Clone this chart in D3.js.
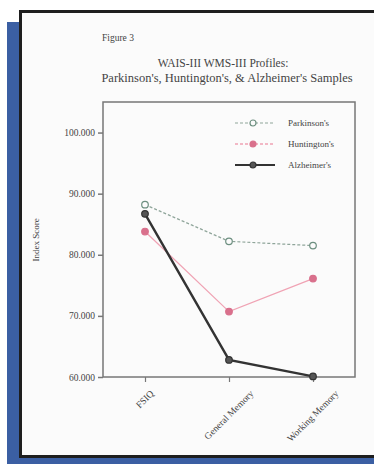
<!DOCTYPE html>
<html>
<head>
<meta charset="utf-8">
<script src="https://cdn.jsdelivr.net/npm/d3@7"></script>
<style>
  html, body { margin: 0; background: #fff; overflow: hidden; }
  svg { display: block; }
  text { font-family: "Liberation Serif", "DejaVu Serif", serif; fill: #444; }
</style>
</head>
<body>
<div id="graph"></div>
<script>
const categories = ["FSIQ", "General Memory", "Working Memory"];
const parkinsons = [88.2, 82.2, 81.5];
const huntingtons = [83.8, 70.7, 76.1];
const alzheimers = [86.7, 62.8, 60.1];
const yTicks = [60, 70, 80, 90, 100];
const seriesNames = ["Parkinson's", "Huntington's", "Alzheimer's"];

const width = 374, height = 464;
const box = {left: 103, right: 355, top: 102, bottom: 377};

const svg = d3.select("#graph").append("svg")
  .attr("width", width).attr("height", height);

// blue backdrop + page with black edges on top, left and bottom
svg.append("rect").attr("x", 7).attr("y", 22).attr("width", 13).attr("height", 442).attr("fill", "#3b5fa3");
svg.append("rect").attr("x", 7).attr("y", 457).attr("width", 367).attr("height", 7).attr("fill", "#3b5fa3");
svg.append("rect").attr("x", 20).attr("y", 11).attr("width", 354).attr("height", 446).attr("fill", "#fbfbfb");
svg.append("path").attr("d", "M374,11.5H20.5V456.5H374")
  .attr("fill", "none").attr("stroke", "#1e1e1e").attr("stroke-width", 3);

// titles
svg.append("text").attr("x", 102).attr("y", 41).style("font-size", "9.5px").text("Figure 3");
svg.append("text").attr("x", 223).attr("y", 67).attr("text-anchor", "middle").style("font-size", "11.5px")
  .text("WAIS-III WMS-III Profiles:");
svg.append("text").attr("x", 227).attr("y", 81.5).attr("text-anchor", "middle").style("font-size", "12.5px")
  .text("Parkinson's, Huntington's, & Alzheimer's Samples");

// scales
const x = d3.scalePoint().domain(categories).range([box.left, box.right]).padding(0.5);
const y = d3.scaleLinear().domain([60, 105]).range([box.bottom, box.top]);

// plot frame
svg.append("rect").attr("x", box.left).attr("y", box.top)
  .attr("width", box.right - box.left).attr("height", box.bottom - box.top)
  .attr("fill", "none").attr("stroke", "#777").attr("stroke-width", 1.5);

// y axis
const yAxis = svg.append("g").attr("transform", "translate(" + box.left + ",0)")
  .call(d3.axisLeft(y).tickValues(yTicks).tickSize(5).tickPadding(3).tickFormat(d => d + ".000"));
yAxis.select(".domain").remove();
yAxis.selectAll("line").attr("stroke", "#777").attr("stroke-width", 1.5);
yAxis.selectAll("text").style("font-size", "9.5px").attr("fill", "#555").style("font-family", "Liberation Serif");

svg.append("text").attr("transform", "translate(39,240) rotate(-90)")
  .attr("text-anchor", "middle").style("font-size", "9px").text("Index Score");

// x axis
const xAxis = svg.append("g").attr("transform", "translate(0," + box.bottom + ")")
  .call(d3.axisBottom(x).tickSize(5).tickFormat(""));
xAxis.select(".domain").remove();
xAxis.selectAll("line").attr("stroke", "#777").attr("stroke-width", 1.2);

svg.append("g").selectAll("text").data(categories).join("text")
  .style("font-size", "9.5px").attr("fill", "#555")
  .attr("text-anchor", "middle")
  .text(d => d)
  .attr("transform", function(d) {
    const w = this.getComputedTextLength();
    const cy = 392 + w * 0.707 / 2;
    return "translate(" + x(d) + "," + cy + ") rotate(-45) translate(0,3)";
  });

// series
const series = [
  {name: seriesNames[0], values: parkinsons, line: "#8fa59a", dash: "3,2", width: 1.2, mark: "#6d8f80", fill: "#fbfbfb"},
  {name: seriesNames[1], values: huntingtons, line: "#f0a3b4", dash: null, width: 1.3, mark: "#d9708c", fill: "#d9708c"},
  {name: seriesNames[2], values: alzheimers, line: "#333", dash: null, width: 2.4, mark: "#333", fill: "#555"}
];

const line = d3.line().x((d, i) => x(categories[i])).y(d => y(d));

series.forEach(s => {
  svg.append("path").datum(s.values)
    .attr("fill", "none").attr("stroke", s.line).attr("stroke-width", s.width)
    .attr("stroke-dasharray", s.dash).attr("d", line);
  svg.append("g").selectAll("circle").data(s.values).join("circle")
    .attr("cx", (d, i) => x(categories[i])).attr("cy", d => y(d)).attr("r", 3.3)
    .attr("fill", s.fill).attr("stroke", s.mark).attr("stroke-width", 1.2);
});

// legend
const legend = svg.append("g").selectAll("g").data(series).join("g")
  .attr("transform", (d, i) => "translate(235," + (123 + i * 21) + ")");
legend.append("line").attr("x1", 0).attr("x2", 40)
  .attr("stroke", d => d.line).attr("stroke-width", d => Math.min(d.width, 1.8))
  .attr("stroke-dasharray", d => d.name === "Alzheimer's" ? null : "3,2");
legend.append("circle").attr("cx", 18).attr("r", 3)
  .attr("fill", d => d.fill).attr("stroke", d => d.mark).attr("stroke-width", 1.2);
legend.append("text").attr("x", 53).attr("y", 3).style("font-size", "9px").text(d => d.name);
</script>
</body>
</html>
